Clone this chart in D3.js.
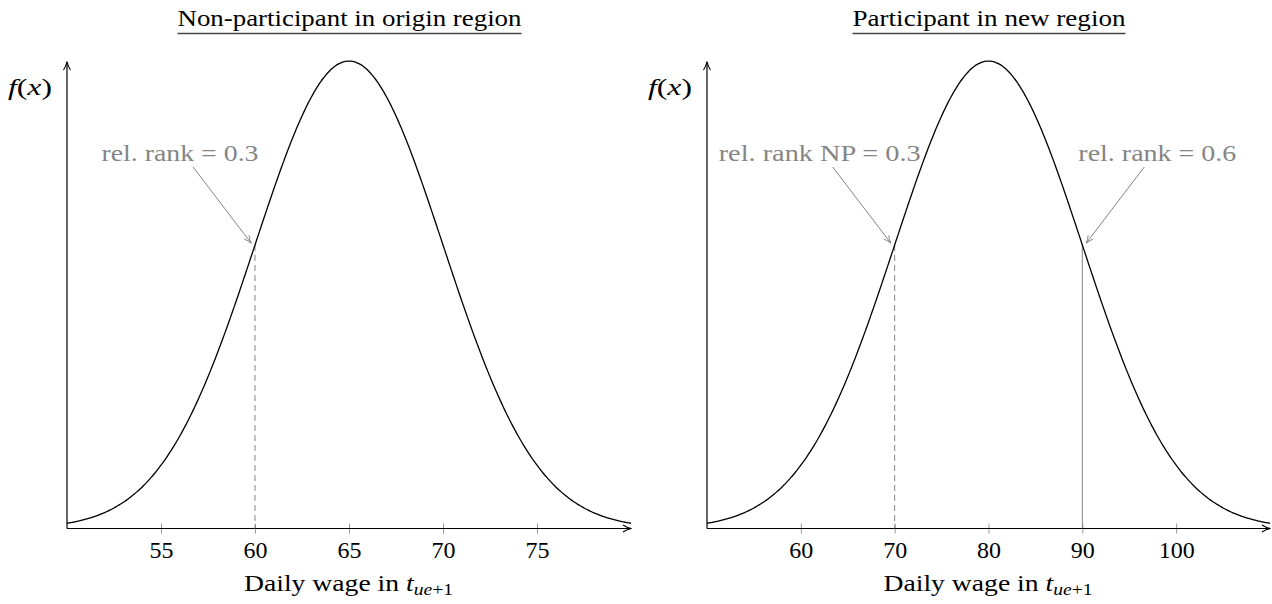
<!DOCTYPE html>
<html>
<head>
<meta charset="utf-8">
<script src="https://cdn.jsdelivr.net/npm/d3@7"></script>
<style>
  html, body { margin: 0; padding: 0; background: #fff; }
  svg { display: block; }
  text { font-family: "Liberation Serif", "DejaVu Serif", serif; }
</style>
</head>
<body>
<svg id="chart" width="1272" height="604"></svg>
<script>
// ---------- data ----------
const panelTitles = ["Non-participant in origin region", "Participant in new region"];
const means = [65, 80];
const sds = [5, 10];
const xMins = [50, 50];
const xMaxs = [80, 110];
const tickValues = [[55, 60, 65, 70, 75], [60, 70, 80, 90, 100]];
const markerPanels = [0, 1, 1];
const markerX = [60, 70, 90];
const markerLabels = ["rel. rank = 0.3", "rel. rank NP = 0.3", "rel. rank = 0.6"];
const markerDashed = [true, true, false];
const markerSide = [-1, -1, 1];

// ---------- layout ----------
const svg = d3.select("#chart");
const panelX = [[67, 631], [707, 1270]];
const baseY = 528.5, topY = 61;
const grey = "#858585";
const titleW = [344, 273];
const labelW = [157, 202, 158];
const FS = 24;

const defs = svg.append("defs");
defs.append("marker").attr("id", "axArrow").attr("viewBox", "0 0 10 10")
  .attr("refX", 9).attr("refY", 5).attr("markerWidth", 10).attr("markerHeight", 10)
  .attr("markerUnits", "userSpaceOnUse").attr("orient", "auto")
  .append("path").attr("d", "M1,1.5 Q5,4.2 9.5,5 Q5,5.8 1,8.5")
  .attr("fill", "none").attr("stroke", "#000").attr("stroke-width", 1.1);
defs.append("marker").attr("id", "grArrow").attr("viewBox", "0 0 10 10")
  .attr("refX", 9).attr("refY", 5).attr("markerWidth", 9).attr("markerHeight", 9)
  .attr("markerUnits", "userSpaceOnUse").attr("orient", "auto")
  .append("path").attr("d", "M1,1.5 Q5,4.2 9.5,5 Q5,5.8 1,8.5")
  .attr("fill", "none").attr("stroke", grey).attr("stroke-width", 1);

function pdf(x, m, s) {
  return Math.exp(-0.5 * ((x - m) / s) ** 2) / (s * Math.sqrt(2 * Math.PI));
}
function fit(sel, w) {
  sel.attr("textLength", w).attr("lengthAdjust", "spacingAndGlyphs");
  return sel;
}

panelTitles.forEach((title, p) => {
  const g = svg.append("g");
  const x = d3.scaleLinear().domain([xMins[p], xMaxs[p]]).range(panelX[p]);
  const y = d3.scaleLinear().domain([0, pdf(means[p], means[p], sds[p])]).range([baseY, topY]);
  const cx = (panelX[p][0] + panelX[p][1]) / 2;

  // title with underline
  const t = g.append("text").attr("x", cx + 0.5).attr("y", 26).attr("text-anchor", "middle")
    .attr("font-size", FS).attr("fill", "#000").text(title);
  fit(t, titleW[p]);
  g.append("line").attr("x1", cx + 0.5 - titleW[p] / 2).attr("x2", cx + 0.5 + titleW[p] / 2)
    .attr("y1", 33.5).attr("y2", 33.5).attr("stroke", "#444").attr("stroke-width", 1.4);

  // x axis
  const axis = d3.axisBottom(x).tickValues(tickValues[p]).tickSize(0).tickPadding(0);
  const ag = g.append("g").attr("transform", `translate(0,${baseY})`).call(axis);
  ag.select(".domain").remove();
  ag.selectAll(".tick line").attr("y1", -5).attr("y2", 5).attr("stroke", "#9a9a9a").attr("stroke-width", 1);
  ag.selectAll(".tick text").attr("y", 29.5).attr("dy", 0).attr("font-size", FS).attr("fill", "#000")
    .attr("font-family", "Liberation Serif, serif");

  g.append("line").attr("x1", panelX[p][0]).attr("x2", panelX[p][1])
    .attr("y1", baseY).attr("y2", baseY).attr("stroke", "#000").attr("stroke-width", 1.2)
    .attr("marker-end", "url(#axArrow)");
  g.append("line").attr("x1", panelX[p][0]).attr("x2", panelX[p][0])
    .attr("y1", baseY).attr("y2", topY + 1).attr("stroke", "#000").attr("stroke-width", 1.2)
    .attr("marker-end", "url(#axArrow)");

  // axis labels
  const xl = g.append("text").attr("x", cx - 0.5).attr("y", 591).attr("text-anchor", "middle")
    .attr("font-size", FS).attr("fill", "#000");
  xl.append("tspan").text("Daily wage in ");
  xl.append("tspan").attr("font-style", "italic").text("t");
  xl.append("tspan").attr("font-size", 17).attr("dy", 4).attr("font-style", "italic").text("ue");
  xl.append("tspan").attr("font-size", 17).text("+1");
  fit(xl, 209);

  const yl = g.append("text").attr("x", panelX[p][0] - 37).attr("y", 95).attr("text-anchor", "middle")
    .attr("font-size", FS).attr("fill", "#000");
  yl.append("tspan").attr("font-style", "italic").text("f");
  yl.append("tspan").text("(");
  yl.append("tspan").attr("font-style", "italic").text("x");
  yl.append("tspan").text(")");
  fit(yl, 44);

  // markers
  markerPanels.forEach((mp, i) => {
    if (mp !== p) return;
    const mx = x(markerX[i]);
    const my = y(pdf(markerX[i], means[p], sds[p]));
    g.append("line").attr("x1", mx).attr("x2", mx).attr("y1", my).attr("y2", baseY)
      .attr("stroke", grey).attr("stroke-width", 1)
      .attr("stroke-dasharray", markerDashed[i] ? "6,4" : null);
    const s = markerSide[i];
    const ex = mx + s * 4, ey = my - 2;
    const sx = ex + s * 58, sy = ey - 76;
    const lt = g.append("text").attr("x", sx + s * 13).attr("y", sy - 6).attr("text-anchor", "middle")
      .attr("font-size", FS).attr("fill", grey).text(markerLabels[i]);
    fit(lt, labelW[i]);
    g.append("line").attr("x1", sx).attr("y1", sy).attr("x2", ex).attr("y2", ey)
      .attr("stroke", grey).attr("stroke-width", 1).attr("marker-end", "url(#grArrow)");
  });

  // density curve
  const pts = d3.range(xMins[p], xMaxs[p] + 1e-9, (xMaxs[p] - xMins[p]) / 300)
    .map(v => [v, pdf(v, means[p], sds[p])]);
  g.append("path").datum(pts)
    .attr("d", d3.line().x(d => x(d[0])).y(d => y(d[1])).curve(d3.curveBasis))
    .attr("fill", "none").attr("stroke", "#000").attr("stroke-width", 1.3);
});
</script>
</body>
</html>
